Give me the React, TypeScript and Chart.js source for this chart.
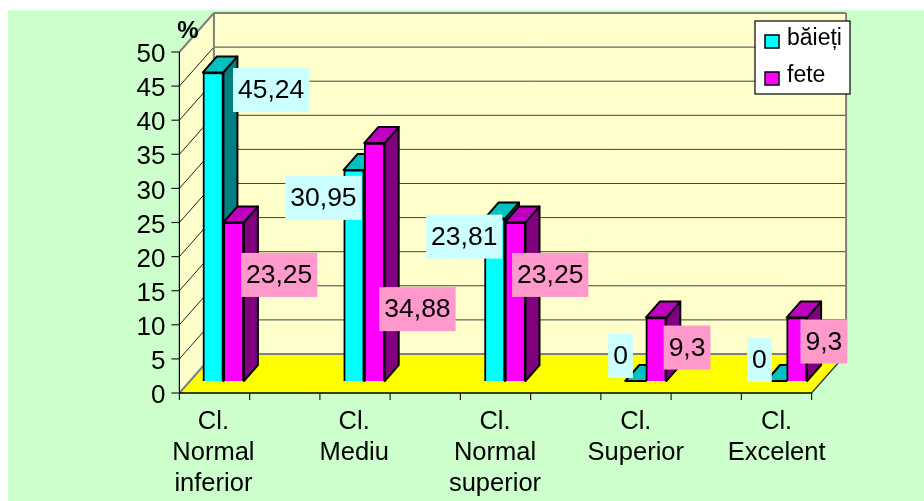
import React, { useEffect, useRef } from "react";
import { Chart, registerables } from "chart.js";

Chart.register(...registerables);

const categories = [
  ["Cl.", "Normal", "inferior"],
  ["Cl.", "Mediu"],
  ["Cl.", "Normal", "superior"],
  ["Cl.", "Superior"],
  ["Cl.", "Excelent"],
];
const baieti = [45.24, 30.95, 23.81, 0, 0];
const fete = [23.25, 34.88, 23.25, 9.3, 9.3];
const seriesNames = ["băieți", "fete"];
const yTicks = { min: 0, max: 50, step: 5 };

const FONT = "'Liberation Sans', Arial, sans-serif";
const PAGE_BG = "#CCFFCC";
const WALL = "#FFFFCC";
const FLOOR = "#FFFF00";
const GREY = "#808080";
const faceColors = [
  { front: "#00FFFF", side: "#008080", top: "#00C0C0", label: "#CCFFFF" },
  { front: "#FF00FF", side: "#800080", top: "#C000C0", label: "#FF99CC" },
];
// depth of the box, of the bar's offset into the box, and of the bar itself
const BOX = { dx: 34.5, dy: -39, left: 34, right: 35 };
const BAR_SHIFT = { x: 10, y: -12 };
const BAR_DEPTH = { x: 14, y: -16 };
// data-label box centres, relative to each bar's front top centre
const labelOffsets = [
  [[58, 17.5], [-30.5, 28], [-30.5, 18], [-15, -25], [-17, -21]],
  [[45.5, 52.5], [43, 166], [35, 52.5], [31, 30], [27, 24]],
];

function poly(ctx: CanvasRenderingContext2D, pts: number[][], fill: string | null, stroke?: string, lw = 1) {
  ctx.beginPath();
  pts.forEach((p, i) => (i ? ctx.lineTo(p[0], p[1]) : ctx.moveTo(p[0], p[1])));
  ctx.closePath();
  if (fill) {
    ctx.fillStyle = fill;
    ctx.fill();
  }
  if (stroke) {
    ctx.strokeStyle = stroke;
    ctx.lineWidth = lw;
    ctx.stroke();
  }
}
function line(ctx: CanvasRenderingContext2D, x1: number, y1: number, x2: number, y2: number, color: string, lw = 1) {
  ctx.beginPath();
  ctx.moveTo(x1, y1);
  ctx.lineTo(x2, y2);
  ctx.strokeStyle = color;
  ctx.lineWidth = lw;
  ctx.stroke();
}

const box3d = {
  id: "box3d",
  afterLayout(chart: any) {
    // the value axis sits on the front edge of the box, inside the category band
    const { x, y } = chart.scales;
    y.right = x.getPixelForValue(0) - BOX.left;
  },
  beforeDraw(chart: any) {
    const { ctx, scales } = chart;
    const x = scales.x;
    const y = scales.y;
    ctx.save();
    ctx.fillStyle = PAGE_BG;
    ctx.fillRect(8, 10, chart.width - 8, chart.height - 10);

    const c0 = x.getPixelForValue(0);
    const step = x.getPixelForValue(1) - c0;
    const L = c0 - BOX.left;
    const R = x.getPixelForValue(categories.length - 1) + BOX.right;
    const B = y.getPixelForValue(yTicks.min);
    const T = y.getPixelForValue(yTicks.max);
    const dx = BOX.dx;
    const dy = BOX.dy;

    poly(ctx, [[L + dx, T + dy], [R + dx, T + dy], [R + dx, B + dy], [L + dx, B + dy]], WALL);
    poly(ctx, [[L, T], [L + dx, T + dy], [L + dx, B + dy], [L, B]], WALL);
    poly(ctx, [[L, B], [L + dx, B + dy], [R + dx, B + dy], [R, B]], FLOOR);

    y.ticks.forEach((t: any) => {
      const py = y.getPixelForValue(t.value);
      if (t.value > yTicks.min && t.value < yTicks.max) {
        line(ctx, L + dx, py + dy, R + dx, py + dy, "#404040", 1);
        line(ctx, L, py, L + dx, py + dy, "#202020", 1);
      }
      line(ctx, L - 8, py, L, py, "#202020", 1.2);
    });

    // box frame
    line(ctx, L + dx, T + dy, R + dx, T + dy, GREY, 2);
    line(ctx, R + dx, T + dy, R + dx, B + dy, GREY, 2);
    line(ctx, L + dx, T + dy, L + dx, B + dy, GREY, 2);
    line(ctx, L + dx, B + dy, R + dx, B + dy, GREY, 2);
    line(ctx, L, T, L + dx, T + dy, GREY, 2);
    line(ctx, L, B, L + dx, B + dy, GREY, 2);
    line(ctx, R, B, R + dx, B + dy, "#303030", 1.2);

    // axes
    line(ctx, L, T, L, B, "#000", 1.2);
    line(ctx, L, B, R, B, "#000", 1.5);
    const n = Math.round((R - L) / (step / 2));
    for (let k = 0; k <= n; k++) {
      const px = L + ((R - L) * k) / n;
      line(ctx, px, B, px, B + 7, "#202020", 1.2);
    }
    ctx.restore();
  },
  beforeDatasetsDraw(chart: any) {
    const { ctx } = chart;
    ctx.save();
    chart.data.datasets.forEach((_: any, di: number) => {
      const c = faceColors[di];
      chart.getDatasetMeta(di).data.forEach((bar: any) => {
        const l = bar.x - bar.width / 2 + BAR_SHIFT.x;
        const r = bar.x + bar.width / 2 + BAR_SHIFT.x;
        const t = bar.y + BAR_SHIFT.y;
        const b = bar.base + BAR_SHIFT.y;
        const ox = BAR_DEPTH.x;
        const oy = BAR_DEPTH.y;
        ctx.lineJoin = "round";
        if (b - t > 0.5) {
          poly(ctx, [[r, t], [r + ox, t + oy], [r + ox, b + oy], [r, b]], c.side, "#000", 2);
        }
        poly(ctx, [[l, t], [l + ox, t + oy], [r + ox, t + oy], [r, t]], c.top, "#000", 2);
      });
    });
    ctx.restore();
    ctx.save();
    ctx.translate(BAR_SHIFT.x, BAR_SHIFT.y);
  },
  afterDatasetsDraw(chart: any) {
    const { ctx } = chart;
    ctx.restore();
    ctx.save();
    ctx.textBaseline = "middle";
    ctx.textAlign = "center";

    // data labels
    ctx.font = `26.5px ${FONT}`;
    chart.data.datasets.forEach((ds: any, di: number) => {
      chart.getDatasetMeta(di).data.forEach((bar: any, i: number) => {
        const [ox, oy] = labelOffsets[di][i];
        const cx = bar.x + BAR_SHIFT.x + ox;
        const cy = bar.y + BAR_SHIFT.y + oy;
        const text = String(ds.data[i]).replace(".", ",");
        const w = ctx.measureText(text).width + 10;
        ctx.fillStyle = faceColors[di].label;
        ctx.fillRect(cx - w / 2, cy - 22, w, 44);
        ctx.fillStyle = "#000";
        ctx.fillText(text, cx, cy + 1);
      });
    });

    // axis caption
    ctx.font = `bold 24px ${FONT}`;
    ctx.fillStyle = "#000";
    ctx.fillText("%", 188, 31);

    // legend
    const lx = 755;
    const ly = 21;
    ctx.fillStyle = "#FFFFFF";
    ctx.fillRect(lx, ly, 95, 73);
    ctx.strokeStyle = "#000";
    ctx.lineWidth = 1.2;
    ctx.strokeRect(lx, ly, 95, 73);
    ctx.textAlign = "left";
    ctx.font = `23px ${FONT}`;
    seriesNames.forEach((name, i) => {
      const sy = ly + 14 + i * 37;
      ctx.fillStyle = faceColors[i].front;
      ctx.fillRect(lx + 10, sy, 14, 13);
      ctx.strokeStyle = "#000";
      ctx.lineWidth = 1.5;
      ctx.strokeRect(lx + 10, sy, 14, 13);
      ctx.fillStyle = "#000";
      ctx.fillText(name, lx + 32, sy + 4);
    });
    ctx.restore();
  },
};

export default function App() {
  const ref = useRef<HTMLCanvasElement | null>(null);
  useEffect(() => {
    const chart = new Chart(ref.current as HTMLCanvasElement, {
      type: "bar",
      data: {
        labels: categories as any,
        datasets: [
          {
            label: seriesNames[0],
            data: baieti,
            backgroundColor: faceColors[0].front,
            borderColor: "#000",
            borderWidth: 2,
            barThickness: 20.5,
            clip: false as any,
          },
          {
            label: seriesNames[1],
            data: fete,
            backgroundColor: faceColors[1].front,
            borderColor: "#000",
            borderWidth: 2,
            barThickness: 20.5,
            clip: false as any,
          },
        ],
      },
      options: {
        responsive: false,
        animation: false,
        layout: { padding: { left: 8, right: 77, top: 52, bottom: 0 } },
        plugins: { legend: { display: false }, title: { display: false }, tooltip: { enabled: false } },
        scales: {
          x: {
            type: "category",
            offset: true,
            grid: { display: false, drawTicks: false },
            border: { display: false },
            afterFit: (s: any) => {
              s.height = 108;
            },
            ticks: {
              autoSkip: false,
              maxRotation: 0,
              minRotation: 0,
              padding: 13,
              color: "#000",
              font: { family: FONT, size: 25.5, lineHeight: 1.22 },
            },
          },
          y: {
            type: "linear",
            min: yTicks.min,
            max: yTicks.max,
            grid: { display: false, drawTicks: false },
            border: { display: false },
            afterFit: (s: any) => {
              s.width = 135;
            },
            ticks: {
              stepSize: yTicks.step,
              autoSkip: false,
              padding: 14,
              labelOffset: 3,
              color: "#000",
              font: { family: FONT, size: 26 },
            },
          },
        },
      },
      plugins: [box3d],
    } as any);
    return () => chart.destroy();
  }, []);
  return (
    <canvas
      ref={ref}
      width={924}
      height={501}
      style={{ position: "absolute", left: 0, top: 0, width: 924, height: 501 }}
    />
  );
}
